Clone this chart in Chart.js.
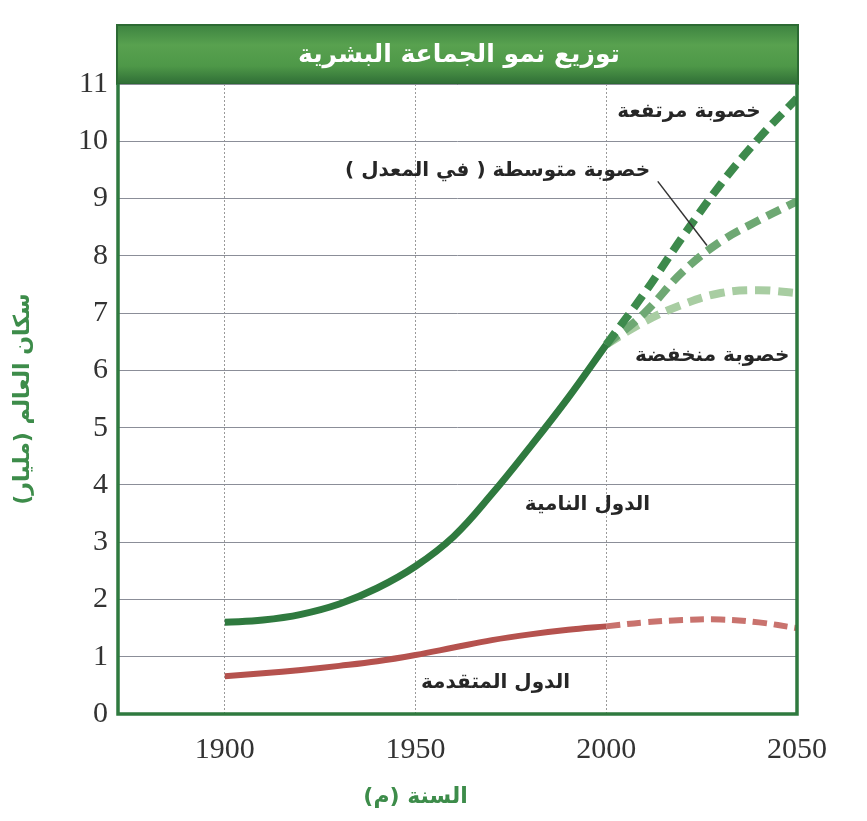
<!DOCTYPE html>
<html lang="ar">
<head>
<meta charset="utf-8">
<script src="https://cdn.jsdelivr.net/npm/chart.js@4/dist/chart.umd.min.js"></script>
<style>
  html, body { margin: 0; padding: 0; background: #fff; }
  #wrap { width: 867px; height: 821px; }
</style>
</head>
<body>
<div id="wrap"><canvas id="popChart" width="867" height="821"></canvas></div>
<script>
// السنوات والقيم (مليار نسمة)
const histYears = [1900, 1910, 1920, 1930, 1940, 1950, 1960, 1970, 1980, 1990, 2000];
const projYears = [2000, 2010, 2020, 2030, 2040, 2050];

const developing = [1.6, 1.64, 1.74, 1.92, 2.2, 2.58, 3.1, 3.84, 4.66, 5.52, 6.45];
const developed  = [0.66, 0.71, 0.77, 0.84, 0.92, 1.03, 1.16, 1.29, 1.39, 1.47, 1.53];

const highFert   = [6.45, 7.35, 8.33, 9.25, 10.05, 10.75];
const midFert    = [6.45, 7.0, 7.72, 8.25, 8.62, 8.95];
const lowFert    = [6.45, 6.85, 7.15, 7.35, 7.4, 7.35];
const developedProj = [1.53, 1.6, 1.64, 1.65, 1.6, 1.5];

const xTicks = [1900, 1950, 2000, 2050];
const yTicks = [0, 1, 2, 3, 4, 5, 6, 7, 8, 9, 10, 11];

const chartTitle = 'توزيع نمو الجماعة البشرية';
const xTitle = 'السنة (م)';
const yTitle = 'سكان العالم (مليار)';

// النصوص داخل الرسم ومواضعها (سنة، قيمة)
const notes = [
  { text: 'خصوبة مرتفعة', x: 2040.5, y: 10.52 },
  { text: 'خصوبة متوسطة ( في المعدل )', x: 2011.5, y: 9.48 },
  { text: 'خصوبة منخفضة', x: 2048, y: 6.25 },
  { text: 'الدول النامية', x: 2011.5, y: 3.66 },
  { text: 'الدول المتقدمة', x: 1990.5, y: 0.54 }
];

const pts = (xs, ys) => xs.map((x, i) => ({ x: x, y: ys[i] }));

const GREEN = '#2f7a3f';

const decorPlugin = {
  id: 'decor',
  beforeDraw(chart) {
    const { ctx, chartArea: a } = chart;
    // شريط العنوان
    const top = 24;
    const g = ctx.createLinearGradient(0, top, 0, a.top);
    g.addColorStop(0, '#3c8240');
    g.addColorStop(0.35, '#58a14f');
    g.addColorStop(0.7, '#4e9848');
    g.addColorStop(1, '#2f6e36');
    ctx.save();
    ctx.fillStyle = g;
    ctx.fillRect(a.left - 2, top, a.right - a.left + 4, a.top - top);
    ctx.strokeStyle = '#2c6a33';
    ctx.lineWidth = 2;
    ctx.strokeRect(a.left - 1, top + 1, a.right - a.left + 2, a.top - top - 1);
    ctx.fillStyle = '#ffffff';
    ctx.font = 'bold 25px "DejaVu Sans"';
    ctx.textAlign = 'center';
    ctx.textBaseline = 'middle';
    ctx.direction = 'rtl';
    ctx.fillText(chartTitle, 459, (top + a.top) / 2 + 1);
    ctx.restore();
  },
  afterDatasetsDraw(chart) {
    const { ctx, chartArea: a, scales: { x, y } } = chart;
    ctx.save();
    ctx.fillStyle = '#262626';
    ctx.font = 'bold 20px "DejaVu Sans"';
    ctx.textAlign = 'right';
    ctx.textBaseline = 'middle';
    ctx.direction = 'rtl';
    notes.forEach(n => ctx.fillText(n.text, x.getPixelForValue(n.x), y.getPixelForValue(n.y)));
    // خط الإشارة
    ctx.strokeStyle = '#333';
    ctx.lineWidth = 1.5;
    ctx.beginPath();
    ctx.moveTo(x.getPixelForValue(2013.5), y.getPixelForValue(9.3));
    ctx.lineTo(x.getPixelForValue(2026.4), y.getPixelForValue(8.18));
    ctx.stroke();
    // الإطار
    ctx.strokeStyle = GREEN;
    ctx.lineWidth = 3.5;
    ctx.beginPath();
    ctx.moveTo(a.left, a.top);
    ctx.lineTo(a.left, a.bottom);
    ctx.lineTo(a.right, a.bottom);
    ctx.lineTo(a.right, a.top);
    ctx.stroke();
    // عنوان المحور الأفقي
    ctx.fillStyle = '#3d8c4a';
    ctx.font = 'bold 22px "DejaVu Sans"';
    ctx.textAlign = 'center';
    ctx.fillText(xTitle, x.getPixelForValue(1950), 797);
    ctx.restore();
  }
};

const lineBase = {
  fill: false,
  pointRadius: 0,
  tension: 0.4,
  borderCapStyle: 'butt'
};

new Chart(document.getElementById('popChart'), {
  type: 'line',
  data: {
    datasets: [
      Object.assign({ label: 'الدول النامية', data: pts(histYears, developing), borderColor: GREEN, borderWidth: 7 }, lineBase),
      Object.assign({ label: 'خصوبة مرتفعة', data: pts(projYears, highFert), borderColor: '#3d8a4c', borderWidth: 8, borderDash: [15, 8] }, lineBase),
      Object.assign({ label: 'خصوبة متوسطة', data: pts(projYears, midFert), borderColor: '#6ea873', borderWidth: 8, borderDash: [15, 8] }, lineBase),
      Object.assign({ label: 'خصوبة منخفضة', data: pts(projYears, lowFert), borderColor: '#a8cda2', borderWidth: 8, borderDash: [15, 8] }, lineBase),
      Object.assign({ label: 'الدول المتقدمة', data: pts(histYears, developed), borderColor: '#b5524e', borderWidth: 6 }, lineBase),
      Object.assign({ label: 'الدول المتقدمة (توقع)', data: pts(projYears, developedProj), borderColor: '#c9736e', borderWidth: 6, borderDash: [14, 7] }, lineBase)
    ]
  },
  options: {
    responsive: false,
    animation: false,
    layout: { padding: { top: 84, right: 70, left: 0, bottom: 0 } },
    plugins: {
      legend: { display: false },
      tooltip: { enabled: false },
      title: { display: false }
    },
    scales: {
      x: {
        type: 'linear',
        min: 1872,
        max: 2050,
        afterFit: s => { s.height = 107; },
        afterBuildTicks: s => { s.ticks = xTicks.map(v => ({ value: v })); },
        grid: { color: '#9a9a9a', lineWidth: 1, drawTicks: false },
        border: { display: false, dash: [2, 2] },
        ticks: { padding: 18, color: '#333', font: { family: '"Liberation Serif"', size: 30 }, maxRotation: 0, autoSkip: false, callback: v => String(v) }
      },
      y: {
        min: 0,
        max: 11,
        afterFit: s => { s.width = 118; },
        afterBuildTicks: s => { s.ticks = yTicks.map(v => ({ value: v })); },
        grid: { color: '#8b8e98', lineWidth: 1, drawTicks: false },
        border: { display: false },
        ticks: { padding: 10, color: '#333', font: { family: '"Liberation Serif"', size: 30 } },
        title: { display: true, text: yTitle, color: '#3d8c4a', font: { family: '"DejaVu Sans"', size: 22, weight: 'bold' }, padding: { top: 10, bottom: 0 } }
      }
    }
  },
  plugins: [decorPlugin]
});
</script>
</body>
</html>
